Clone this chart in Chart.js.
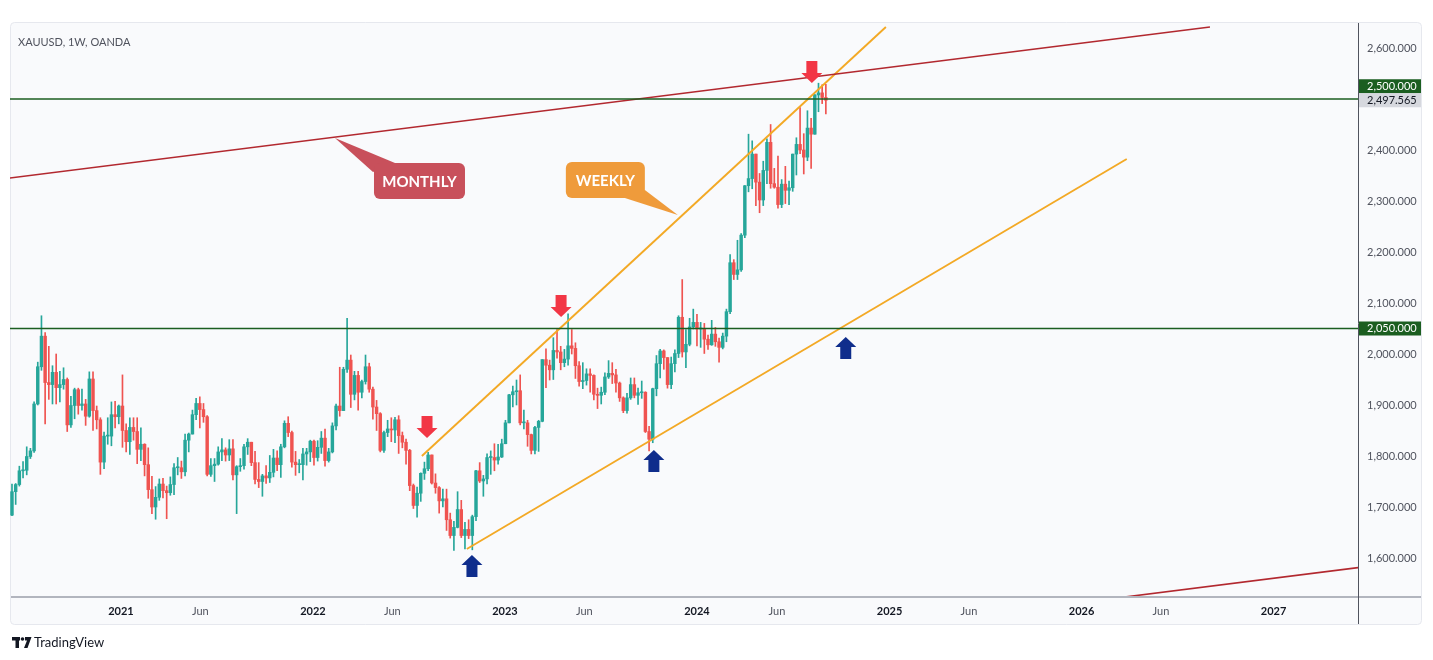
<!DOCTYPE html>
<html>
<head>
<meta charset="utf-8">
<script src="https://cdn.jsdelivr.net/npm/chart.js@4.4.1/dist/chart.umd.min.js"></script>
<style>
  html, body { margin: 0; padding: 0; background: #fff; }
  #wrap { width: 1433px; height: 660px; }
</style>
</head>
<body>
<div id="wrap"><canvas id="chart" width="1433" height="660"></canvas></div>
<script>
"use strict";

// XAUUSD weekly candles, first bar = week of 2020-06-08
const startWeek = "2020-06-08";

const opens = [
  // 2020
  1684,1730,1744,1771,1772,1799,1810,1902,1975,2035,1944,1940,1964,1934,1940,1950,1861,1899,1930,1899,1902,1878,1951,1889,1871,1788,1839,1839,1881,1877,
  // 2021
  1898,1850,1828,1856,1848,1813,1823,1783,1734,1700,1719,1745,1732,1728,1744,1777,1777,1769,1831,1843,1881,1903,1891,1877,1764,1781,1784,1808,1812,1802,1814,1763,1779,1781,1818,1827,1787,1754,1750,1761,1757,1768,1796,1783,1818,1864,1846,1788,1783,1783,1804,1808,
  // 2022
  1829,1797,1817,1835,1791,1808,1859,1898,1889,1970,1988,1921,1958,1925,1946,1975,1931,1896,1883,1811,1846,1853,1851,1871,1840,1827,1811,1742,1703,1727,1766,1775,1802,1747,1738,1712,1716,1675,1644,1660,1695,1644,1656,1644,1681,1771,1751,1755,1797,1797,1792,1798,
  // 2023
  1824,1865,1920,1926,1928,1865,1865,1842,1811,1856,1868,1989,1978,1969,2007,2004,1983,1990,2016,2011,1977,1946,1948,1961,1958,1921,1919,1925,1955,1962,1959,1943,1914,1889,1914,1940,1919,1924,1925,1848,1833,1932,1981,2006,1993,1940,1981,2001,2072,2004,2019,2053,
  // 2024
  2062,2049,2049,2029,2018,2039,2024,2013,2035,2083,2179,2156,2165,2233,2330,2344,2392,2337,2302,2360,2415,2334,2327,2293,2333,2321,2326,2392,2411,2400,2386,2443,2431,2508,2512,2503
];
const highs = [
  1745,1746,1780,1789,1818,1815,1906,1984,2075,2042,2015,1977,2000,1966,1973,1953,1917,1933,1933,1931,1911,1965,1965,1898,1875,1847,1875,1906,1907,1900,
  1959,1863,1875,1875,1875,1855,1824,1816,1760,1740,1755,1756,1741,1759,1785,1797,1790,1843,1845,1890,1913,1916,1903,1879,1795,1795,1818,1834,1816,1832,1832,1781,1795,1823,1834,1827,1809,1787,1764,1781,1801,1813,1810,1823,1869,1877,1849,1809,1793,1815,1815,1831,
  1831,1830,1848,1853,1815,1865,1902,1974,1974,2070,1998,1966,1966,1949,1998,1982,1935,1909,1885,1849,1870,1875,1876,1879,1847,1833,1813,1745,1739,1767,1788,1807,1802,1765,1740,1735,1735,1688,1672,1730,1713,1670,1675,1684,1772,1787,1762,1804,1810,1824,1823,1833,
  1870,1921,1937,1949,1959,1890,1870,1843,1858,1870,1989,2010,1988,2032,2048,2015,2009,2079,2048,2022,1985,1983,1971,1971,1959,1933,1935,1963,1987,1983,1970,1945,1916,1923,1953,1953,1933,1947,1926,1858,1933,1997,2009,2008,1993,1994,2008,2075,2146,2048,2070,2088,
  2078,2062,2060,2037,2066,2052,2031,2041,2088,2195,2185,2223,2236,2330,2431,2418,2392,2354,2378,2422,2450,2364,2388,2342,2368,2339,2392,2424,2483,2432,2477,2462,2509,2531,2528,2529
];
const lows = [
  1683,1705,1741,1757,1763,1795,1807,1900,1968,1863,1911,1902,1902,1906,1931,1848,1856,1873,1882,1890,1860,1876,1850,1853,1764,1775,1823,1820,1855,1863,
  1817,1808,1803,1831,1785,1791,1761,1717,1687,1676,1713,1718,1677,1723,1724,1763,1756,1761,1808,1843,1871,1855,1866,1761,1760,1750,1782,1791,1790,1791,1753,1687,1770,1774,1803,1781,1745,1738,1721,1746,1748,1759,1771,1758,1816,1838,1778,1762,1767,1753,1782,1789,
  1782,1790,1805,1780,1788,1806,1851,1878,1889,1964,1895,1910,1890,1914,1941,1925,1872,1850,1808,1807,1838,1828,1826,1805,1816,1784,1732,1697,1680,1711,1754,1771,1745,1727,1688,1700,1654,1639,1615,1659,1640,1618,1638,1616,1673,1748,1721,1745,1764,1771,1784,1797,
  1824,1865,1896,1900,1861,1853,1819,1804,1804,1809,1867,1934,1949,1950,1992,1969,1975,1978,2000,1952,1937,1932,1939,1925,1910,1893,1902,1920,1952,1942,1925,1907,1885,1884,1911,1914,1901,1913,1846,1810,1826,1918,1953,1970,1933,1932,1965,1993,1994,1973,2016,2049,
  2016,2013,2001,2009,2017,2015,1984,2010,2024,2079,2146,2146,2162,2228,2318,2324,2291,2277,2291,2334,2325,2325,2286,2287,2295,2293,2319,2351,2393,2353,2379,2364,2431,2475,2491,2471
];
const closes = [
  1730,1744,1771,1772,1799,1810,1902,1975,2035,1944,1940,1964,1934,1940,1950,1861,1899,1930,1899,1902,1878,1951,1889,1871,1788,1839,1839,1881,1877,1898,
  1850,1828,1856,1848,1813,1823,1783,1734,1700,1719,1745,1732,1728,1744,1777,1777,1769,1831,1843,1881,1903,1891,1877,1764,1781,1784,1808,1812,1802,1814,1763,1779,1781,1818,1827,1787,1754,1750,1761,1757,1768,1796,1783,1818,1864,1846,1788,1783,1783,1804,1808,1829,
  1797,1817,1835,1791,1808,1859,1898,1889,1970,1988,1921,1958,1925,1946,1975,1931,1896,1883,1811,1846,1853,1851,1871,1840,1827,1811,1742,1703,1727,1766,1775,1802,1747,1738,1712,1716,1675,1644,1660,1695,1644,1656,1644,1681,1771,1751,1755,1797,1797,1792,1798,1824,
  1865,1920,1926,1928,1865,1865,1842,1811,1856,1868,1989,1978,1969,2007,2004,1983,1990,2016,2011,1977,1946,1948,1961,1958,1921,1919,1925,1955,1962,1959,1943,1914,1889,1914,1940,1919,1924,1925,1848,1833,1932,1981,2006,1993,1940,1981,2001,2072,2004,2019,2053,2062,
  2049,2049,2029,2018,2039,2024,2013,2035,2083,2179,2156,2165,2233,2330,2344,2392,2337,2302,2360,2415,2334,2327,2293,2333,2321,2326,2392,2411,2400,2386,2443,2431,2508,2512,2503,2497.565
];

// time axis labels
const tickDates = ["2021-01-01","2021-06-01","2022-01-01","2022-06-01","2023-01-01","2023-06-01",
                   "2024-01-01","2024-06-01","2025-01-01","2025-06-01","2026-01-01","2026-06-01","2027-01-01"];
const tickLabels = ["2021","Jun","2022","Jun","2023","Jun","2024","Jun","2025","Jun","2026","Jun","2027"];

// horizontal levels
const levelPrices = [2500, 2050];

// trend lines, [week index, price]
const monthlyUpper = [[-1, 2344.7], [325.3, 2641.2]];
const monthlyLower = [[295, 1517.0], [366, 1581.5]];
const weeklyUpper = [[111.3, 1800.0], [237.3, 2641.2]];
const weeklyLower = [[123.5, 1617.7], [302.7, 2382.4]];

// arrow tips, [week index, price]
const downArrows = [[112.7, 1835.3], [149.1, 2072.6], [217.2, 2531.4]];
const upArrows = [[124.9, 1605.9], [174.3, 1811.8], [226.4, 2033.4]];

// callouts: box corner and pointer tip, [week index, price]
const calloutTexts = ["MONTHLY", "WEEKLY"];
const calloutBoxes = [[98.3, 2374.5], [150.4, 2376.5]];
const calloutTips = [[87.7, 2423.5], [180.8, 2272.6]];

const X_MIN = -0.54, X_MAX = 365.5;
const Y_MIN = 1523.5, Y_MAX = 2651;

const UP = "#26a69a", DOWN = "#ef5350";

function weekOf(d) {
  return (new Date(d + "T00:00:00Z") - new Date(startWeek + "T00:00:00Z")) / (7 * 86400000);
}
const tickWeeks = tickDates.map(weekOf);

function fmtPrice(v) {
  const parts = v.toFixed(3).split(".");
  return parts[0].replace(/\B(?=(\d{3})+(?!\d))/g, ",") + "." + parts[1];
}

const candleColor = (ctx) => closes[ctx.dataIndex] >= opens[ctx.dataIndex] ? UP : DOWN;
const pts = (arr) => arr.map(p => ({ x: p[0], y: p[1] }));

function lineSet(data, color, width) {
  return {
    type: "line", data: pts(data), borderColor: color, borderWidth: width,
    pointRadius: 0, fill: false, tension: 0, order: 1
  };
}

function roundRect(ctx, x, y, w, h, r) {
  ctx.beginPath();
  ctx.moveTo(x + r, y);
  ctx.arcTo(x + w, y, x + w, y + h, r);
  ctx.arcTo(x + w, y + h, x, y + h, r);
  ctx.arcTo(x, y + h, x, y, r);
  ctx.arcTo(x, y, x + w, y, r);
  ctx.closePath();
}

const framePlugin = {
  id: "frame",
  beforeDraw(chart) {
    const ctx = chart.ctx;
    ctx.save();
    ctx.fillStyle = "#ffffff";
    ctx.fillRect(0, 0, chart.width, chart.height);
    roundRect(ctx, 10.5, 22.5, 1411, 602, 4);
    ctx.fillStyle = "#f9fafc";
    ctx.fill();
    ctx.strokeStyle = "#e6e8ee";
    ctx.lineWidth = 1;
    ctx.stroke();
    ctx.restore();
  },
  afterDatasetsDraw(chart) {
    const ctx = chart.ctx, xs = chart.scales.x, ys = chart.scales.y;
    ctx.save();
    // arrows
    const drawArrow = (p, dir, color) => {
      const cx = xs.getPixelForValue(p[0]), ty = ys.getPixelForValue(p[1]);
      const s = dir; // 1 = pointing down, -1 = pointing up
      ctx.beginPath();
      ctx.moveTo(cx - 5.5, ty - s * 22);
      ctx.lineTo(cx + 5.5, ty - s * 22);
      ctx.lineTo(cx + 5.5, ty - s * 10);
      ctx.lineTo(cx + 10.5, ty - s * 10);
      ctx.lineTo(cx, ty);
      ctx.lineTo(cx - 10.5, ty - s * 10);
      ctx.lineTo(cx - 5.5, ty - s * 10);
      ctx.closePath();
      ctx.fillStyle = color;
      ctx.fill();
    };
    downArrows.forEach(p => drawArrow(p, 1, "#f23645"));
    upArrows.forEach(p => drawArrow(p, -1, "#0f2d8c"));

    // callouts
    const colors = ["#c8505b", "#ef9b3b"];
    calloutTexts.forEach((t, i) => {
      const bx = xs.getPixelForValue(calloutBoxes[i][0]);
      const by = ys.getPixelForValue(calloutBoxes[i][1]);
      const tx = xs.getPixelForValue(calloutTips[i][0]);
      const ty = ys.getPixelForValue(calloutTips[i][1]);
      const w = i === 0 ? 91 : 79, h = 36;
      ctx.fillStyle = colors[i];
      ctx.beginPath();
      ctx.moveTo(tx, ty);
      if (i === 0) {
        ctx.lineTo(bx - 1, by + 9);
        ctx.lineTo(bx + 21, by);
      } else {
        ctx.lineTo(bx + w - 20, by + h);
        ctx.lineTo(bx + w, by + h - 8);
      }
      ctx.closePath();
      ctx.fill();
      roundRect(ctx, bx, by, w, h, 6);
      ctx.fill();
      ctx.fillStyle = "#ffffff";
      ctx.font = "bold 15px Lato";
      ctx.textAlign = "center";
      ctx.textBaseline = "middle";
      ctx.fillText(t, bx + w / 2, by + h / 2 + 1);
    });
    ctx.restore();
  },
  afterDraw(chart) {
    const ctx = chart.ctx, ys = chart.scales.y, area = chart.chartArea;
    ctx.save();
    // axis lines
    ctx.strokeStyle = "#b2b5be";
    ctx.lineWidth = 2;
    ctx.beginPath();
    ctx.moveTo(11, area.bottom);
    ctx.lineTo(1421, area.bottom);
    ctx.stroke();
    ctx.strokeStyle = "#50535e";
    ctx.lineWidth = 1;
    ctx.beginPath();
    ctx.moveTo(area.right + 0.5, 23);
    ctx.lineTo(area.right + 0.5, 624);
    ctx.stroke();

    // price tags on the axis
    ctx.font = "11px Lato";
    ctx.textAlign = "left";
    ctx.textBaseline = "middle";
    const last = closes[closes.length - 1];
    const yLast = ys.getPixelForValue(last);
    const tagH = 14;
    levelPrices.forEach(p => {
      let y = ys.getPixelForValue(p);
      if (Math.abs(y - yLast) < tagH) y = yLast - tagH;
      ctx.fillStyle = "#1b5e20";
      ctx.fillRect(area.right + 1, y - tagH / 2, 62, tagH);
      ctx.fillStyle = "#ffffff";
      ctx.fillText(fmtPrice(p), area.right + 9, y);
    });
    ctx.fillStyle = "#d6d8de";
    ctx.fillRect(area.right + 1, yLast - tagH / 2, 62, tagH);
    ctx.fillStyle = "#131722";
    ctx.fillText(fmtPrice(last), area.right + 9, yLast);

    // header
    ctx.fillStyle = "#50535e";
    ctx.font = "11px Lato";
    ctx.fillText("XAUUSD, 1W, OANDA", 18, 42);

    // TradingView mark
    ctx.fillStyle = "#131722";
    ctx.fillRect(12, 637, 8, 3.5);
    ctx.fillRect(15.5, 637, 3.5, 11);
    ctx.beginPath();
    ctx.arc(22.5, 639, 1.8, 0, Math.PI * 2);
    ctx.fill();
    ctx.beginPath();
    ctx.moveTo(25, 637);
    ctx.lineTo(31.5, 637);
    ctx.lineTo(27.5, 648);
    ctx.lineTo(24, 648);
    ctx.lineTo(27, 640.5);
    ctx.lineTo(25, 640.5);
    ctx.closePath();
    ctx.fill();
    ctx.font = "13px Lato";
    ctx.fillText("TradingView", 34, 643);
    ctx.restore();
  }
};

Chart.defaults.font.family = "Lato";

new Chart(document.getElementById("chart"), {
  type: "bar",
  data: {
    datasets: [
      {
        label: "wick",
        data: closes.map((c, i) => ({ x: i, y: [lows[i], highs[i]] })),
        backgroundColor: candleColor,
        barThickness: 1,
        grouped: false,
        order: 3
      },
      {
        label: "body",
        data: closes.map((c, i) => ({ x: i, y: [opens[i], c] })),
        backgroundColor: candleColor,
        barThickness: 2.8,
        minBarLength: 1,
        grouped: false,
        order: 2
      },
      lineSet([[X_MIN, levelPrices[0]], [X_MAX, levelPrices[0]]], "#1b5e20", 1.6),
      lineSet([[X_MIN, levelPrices[1]], [X_MAX, levelPrices[1]]], "#1b5e20", 1.6),
      lineSet(monthlyUpper, "#b2282f", 1.6),
      lineSet(monthlyLower, "#b2282f", 1.6),
      lineSet(weeklyUpper, "#f3a925", 1.9),
      lineSet(weeklyLower, "#f3a925", 1.9)
    ]
  },
  options: {
    responsive: false,
    animation: false,
    layout: { padding: { left: 10, top: 22, right: 11, bottom: 35 } },
    plugins: { legend: { display: false }, tooltip: { enabled: false } },
    scales: {
      x: {
        type: "linear",
        min: X_MIN,
        max: X_MAX,
        offset: false,
        grid: { display: false, drawTicks: false },
        border: { display: false },
        afterBuildTicks: (scale) => { scale.ticks = tickWeeks.map(v => ({ value: v })); },
        afterFit: (scale) => { scale.height = 28; },
        ticks: {
          autoSkip: false,
          maxRotation: 0,
          padding: 8,
          callback: (v, i) => tickLabels[i],
          color: (ctx) => tickLabels[ctx.index] === "Jun" ? "#50535e" : "#131722",
          font: (ctx) => ({ family: "Lato", size: 11, weight: tickLabels[ctx.index] === "Jun" ? "normal" : "bold" })
        }
      },
      y: {
        position: "right",
        min: Y_MIN,
        max: Y_MAX,
        grid: { display: false, drawTicks: false },
        border: { display: false },
        afterFit: (scale) => { scale.width = 64; },
        ticks: {
          stepSize: 100,
          includeBounds: false,
          padding: 9,
          color: "#50535e",
          font: { family: "Lato", size: 11 },
          callback: (v) => fmtPrice(v)
        }
      }
    }
  },
  plugins: [framePlugin]
});
</script>
</body>
</html>
